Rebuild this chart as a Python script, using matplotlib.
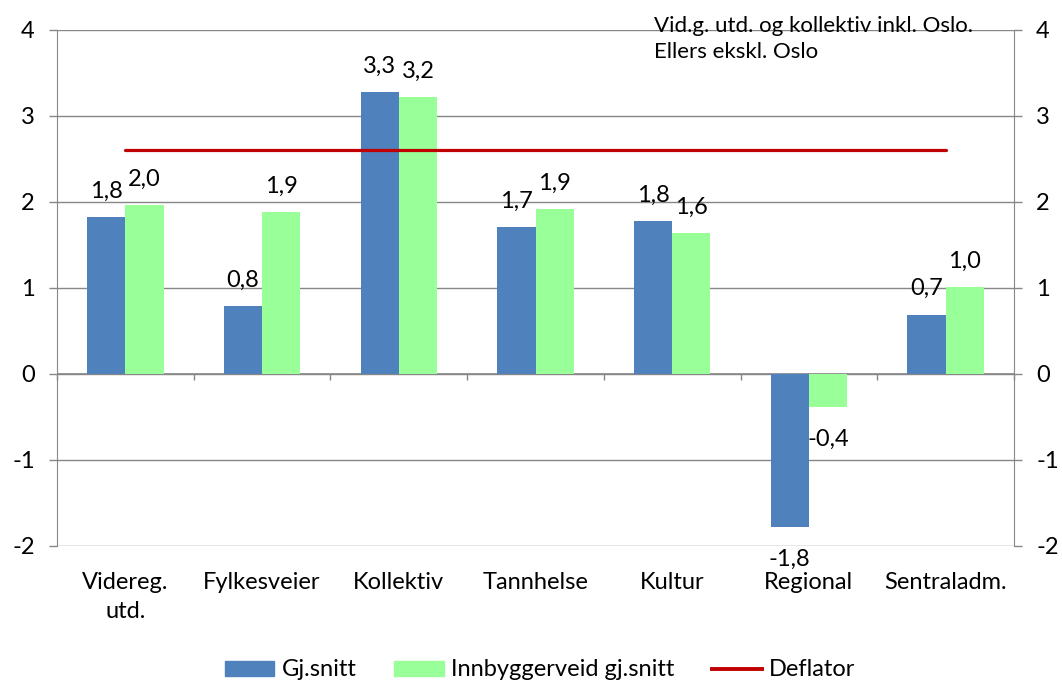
import numpy as np
import matplotlib
matplotlib.use("Agg")
import matplotlib.pyplot as plt
from matplotlib.patches import Patch
from matplotlib.lines import Line2D

plt.rcParams['font.family'] = ['Lato', 'DejaVu Sans']

# data
categories = ["Videreg.\nutd.", "Fylkesveier", "Kollektiv", "Tannhelse",
              "Kultur", "Regional", "Sentraladm."]
gj_snitt = [1.82, 0.79, 3.28, 1.71, 1.78, -1.78, 0.69]
innbyggerveid = [1.96, 1.88, 3.22, 1.92, 1.64, -0.38, 1.01]
deflator = 2.6
yticks = [-2, -1, 0, 1, 2, 3, 4]

blue = "#4F81BD"
green = "#99FF99"
red = "#C00000"
grey = "#878787"
fs = 17

fig = plt.figure(figsize=(10.62, 6.8), dpi=100)
ax = fig.add_axes([57/1062, 1-546/680, (1014-57)/1062, (546-30)/680])

x = np.arange(len(categories))
w = 0.28
b1 = ax.bar(x - w/2, gj_snitt, w, color=blue, zorder=3)
b2 = ax.bar(x + w/2, innbyggerveid, w, color=green, zorder=3)
ax.plot([x[0], x[-1]], [deflator, deflator], color=red, lw=2.3, zorder=4,
        solid_capstyle='round')

def fmt(v):
    return f"{v:.1f}".replace(".", ",")

for bars, vals in [(b1, gj_snitt), (b2, innbyggerveid)]:
    for r, v in zip(bars, vals):
        cx = r.get_x() + r.get_width()/2
        if v >= 0:
            ax.annotate(fmt(v), (cx, v), xytext=(0, 14), textcoords="offset points",
                        ha="center", va="baseline", fontsize=fs, zorder=5)
        else:
            ax.annotate(fmt(v), (cx, v), xytext=(0, -16), textcoords="offset points",
                        ha="center", va="top", fontsize=fs, zorder=5)

ax.set_xlim(-0.5, len(categories) - 0.5)
ax.set_ylim(-2, 4)
ax.set_yticks(yticks)
ax.set_yticklabels([str(t) for t in yticks], fontsize=fs)
ax.grid(axis="y", color=grey, lw=1.0, zorder=0)
ax.axhline(0, color=grey, lw=1.2, zorder=2)

for s in ["top", "right", "bottom"]:
    ax.spines[s].set_visible(False)
ax.spines["left"].set_color(grey)
ax.tick_params(axis="y", length=6, color=grey, width=1.0, pad=10)

ax.set_xticks(x)
ax.set_xticklabels(categories, fontsize=fs, linespacing=1.42)
ax.tick_params(axis="x", length=0, pad=19)

# category boundary ticks on the zero line
sec = ax.secondary_xaxis(2/6)
sec.set_xticks(np.arange(len(categories) + 1) - 0.5)
sec.set_xticklabels([])
sec.tick_params(axis="x", length=4, color=grey, width=1.0, direction="out")
sec.spines["bottom"].set_visible(False)

ax2 = ax.twinx()
ax2.set_ylim(-2, 4)
ax2.set_yticks(yticks)
ax2.set_yticklabels([str(t) for t in yticks], fontsize=fs)
for s in ["top", "left", "bottom"]:
    ax2.spines[s].set_visible(False)
ax2.spines["right"].set_color(grey)
ax2.tick_params(axis="y", length=6, color=grey, width=1.0, pad=10)

fig.text(654/1062, 1-16/680, "Vid.g. utd. og kollektiv inkl. Oslo.\nEllers ekskl. Oslo",
         ha="left", va="top", fontsize=16, linespacing=1.36)

handles = [Patch(color=blue, label="Gj.snitt"),
           Patch(color=green, label="Innbyggerveid gj.snitt"),
           Line2D([], [], color=red, lw=2.8, label="Deflator")]
fig.legend(handles=handles, loc="center", bbox_to_anchor=(540/1062, 1-670/680),
           ncol=3, frameon=False, fontsize=fs, handlelength=2.1, handleheight=0.6,
           handletextpad=0.3, columnspacing=1.6, borderpad=0, borderaxespad=0)

fig.savefig("out.png", dpi=100)
